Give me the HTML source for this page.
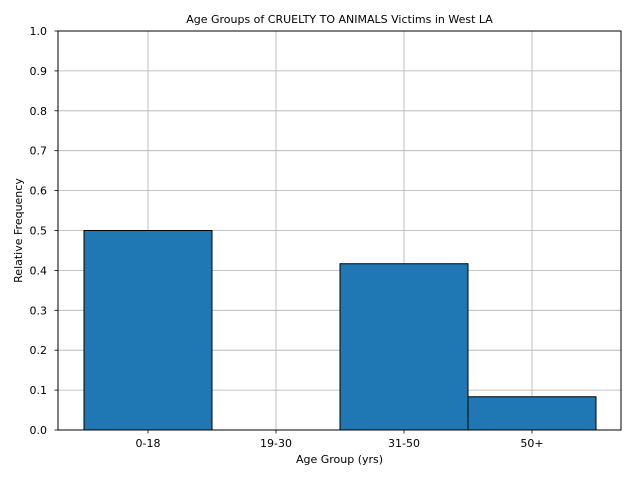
<!DOCTYPE html>
<html><head><meta charset="utf-8"><style>
html,body{margin:0;padding:0;background:#fff;}
svg{display:block;font-family:"DejaVu Sans","Liberation Sans",sans-serif;}
</style></head><body>
<svg id="chart" width="640" height="480" xmlns="http://www.w3.org/2000/svg"></svg>
<script>
const categories = ["0-18","19-30","31-50","50+"];
const values = [0.5, 0, 0.4167, 0.0833];
const yTicks = [0,0.1,0.2,0.3,0.4,0.5,0.6,0.7,0.8,0.9,1.0];
const yTickLabels = ["0.0","0.1","0.2","0.3","0.4","0.5","0.6","0.7","0.8","0.9","1.0"];

const L=58,R=621,T=31,B=430;
const x0=148, step=128, barW=128;
const xPos=i=>x0+step*i;
const yPos=v=>B-(B-T)*v;
const svg=document.getElementById('chart');
const NS="http://www.w3.org/2000/svg";
function mk(tag,attrs,parent){const e=document.createElementNS(NS,tag);for(const k in attrs)e.setAttribute(k,attrs[k]);(parent||svg).appendChild(e);return e;}

const grid=mk('g',{});


yTicks.forEach(v=>{mk('line',{x1:L,x2:R,y1:yPos(v),y2:yPos(v),stroke:'#b0b0b0','stroke-width':0.8},grid);});
categories.forEach((c,i)=>{mk('line',{x1:xPos(i),x2:xPos(i),y1:T,y2:B,stroke:'#b0b0b0','stroke-width':0.8},grid);});

categories.forEach((c,i)=>{
  const v=values[i];
  const r=mk('rect',{x:xPos(i)-barW/2,y:yPos(v),width:barW,height:B-yPos(v),fill:'#1f77b4',stroke:'#000','stroke-width':1});
  
  
});

const frame=mk('rect',{x:L,y:T,width:R-L,height:B-T,fill:'none',stroke:'#000','stroke-width':1});



yTicks.forEach((v,i)=>{
  mk('line',{x1:L-3.5,x2:L,y1:yPos(v),y2:yPos(v),stroke:'#000','stroke-width':0.8});
  const t=mk('text',{x:L-11,y:yPos(v)+4,'text-anchor':'end','font-size':11});
  t.textContent=yTickLabels[i];
  
  
});
categories.forEach((c,i)=>{
  mk('line',{x1:xPos(i),x2:xPos(i),y1:B,y2:B+3.5,stroke:'#000','stroke-width':0.8});
  const t=mk('text',{x:xPos(i),y:B+17,'text-anchor':'middle','font-size':11});
  t.textContent=c;
  
  
});
const xt=mk('text',{x:(L+R)/2,y:463,'text-anchor':'middle','font-size':11});
xt.textContent='Age Group (yrs)';


const yt=mk('text',{x:22,y:(T+B)/2,'text-anchor':'middle','font-size':11,transform:'rotate(-90 22 '+((T+B)/2)+')'});
yt.textContent='Relative Frequency';


const tt=mk('text',{x:(L+R)/2,y:23,'text-anchor':'middle','font-size':11});
tt.textContent='Age Groups of CRUELTY TO ANIMALS Victims in West LA';


</script>
</body></html>
